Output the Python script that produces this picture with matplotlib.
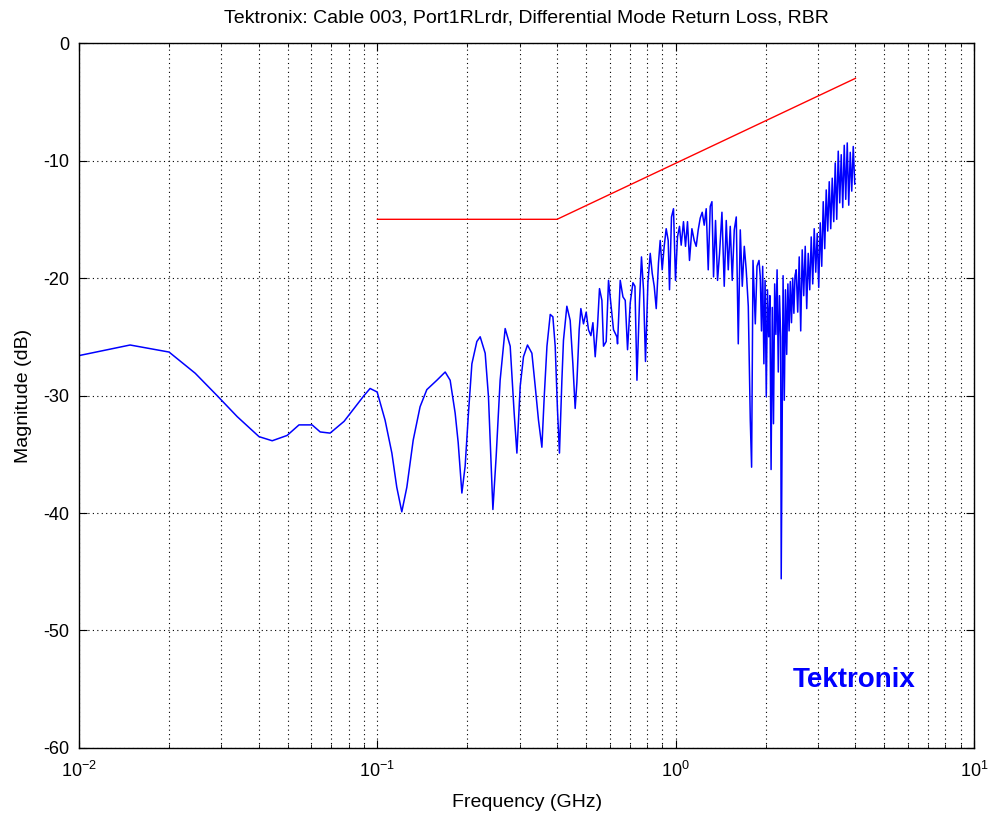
import numpy as np
import matplotlib.pyplot as plt
from matplotlib.ticker import LogLocator

plt.rcParams['font.family'] = ['Liberation Sans', 'DejaVu Sans']
plt.rcParams['axes.unicode_minus'] = False

# limit line (red)
limit_f = [0.1, 0.4, 4.0]
limit_db = [-15, -15, -3]

f_low = [0.01, 0.01483, 0.02003, 0.0245, 0.029, 0.0339, 0.0401, 0.0444, 0.0498,
         0.0546, 0.0604, 0.0643, 0.0694, 0.0773, 0.0835, 0.0902, 0.0945, 0.0998]
db_low = [-26.6, -25.7, -26.3, -28.1, -30.0, -31.8, -33.5, -33.85, -33.4,
          -32.5, -32.5, -33.1, -33.2, -32.2, -31.1, -30.0, -29.4, -29.7]

f_mid = [0.1061, 0.1118, 0.1161, 0.1207, 0.1255, 0.1318, 0.1390, 0.1464, 0.1582,
         0.1687, 0.1753, 0.1822, 0.1865, 0.1919, 0.1968, 0.2019, 0.2073, 0.2154,
         0.2210, 0.2297, 0.2356, 0.2438, 0.2500, 0.2578, 0.2680, 0.2786, 0.2873,
         0.2934, 0.3010, 0.3087, 0.3184, 0.3294, 0.3379, 0.3466, 0.3558, 0.3623,
         0.3700, 0.3795, 0.3873, 0.3943, 0.4013, 0.4075, 0.4152, 0.4203, 0.4314,
         0.4426, 0.4519, 0.4600, 0.4661, 0.4744, 0.4807, 0.4905, 0.5008, 0.5098,
         0.5194, 0.5275, 0.5369, 0.5465, 0.5550, 0.5654, 0.5724, 0.5845, 0.5950,
         0.6183, 0.6347]
db_mid = [-32.1, -34.9, -37.8, -39.9, -37.8, -33.8, -30.95, -29.5, -28.7,
          -28.0, -28.7, -31.5, -34.0, -38.3, -36.0, -31.5, -27.3, -25.4,
          -25.0, -26.4, -30.1, -39.7, -35.2, -28.7, -24.3, -25.8, -31.5,
          -34.9, -29.2, -26.7, -25.7, -26.4, -29.2, -32.1, -34.4, -30.1,
          -25.8, -23.1, -23.3, -25.8, -31.2, -34.9, -28.7, -25.3, -22.4,
          -23.6, -27.3, -31.1, -28.9, -24.4, -22.6, -23.9, -22.9, -24.4,
          -24.9, -23.8, -26.7, -24.1, -20.9, -21.9, -25.8, -25.4, -20.2,
          -24.4, -25.0]

f_high = [0.6379, 0.6513, 0.6651, 0.6770, 0.6891, 0.7037, 0.7184, 0.7296, 0.7410,
          0.7560, 0.7674, 0.7794, 0.7915, 0.8064, 0.8209, 0.8337, 0.8467, 0.8599,
          0.8750, 0.8866, 0.9004, 0.9144, 0.9286, 0.9431, 0.9527, 0.9674, 0.9824,
          0.9977, 1.0132, 1.0290, 1.0426, 1.0612, 1.0778, 1.0946, 1.1116, 1.1324,
          1.1527, 1.1706, 1.1889, 1.2074, 1.2262, 1.2453, 1.2647, 1.2844, 1.3044,
          1.3217, 1.3382, 1.3590, 1.3802, 1.4017, 1.4278, 1.4533, 1.4760, 1.4990,
          1.5224, 1.5461, 1.5702, 1.5947, 1.6195, 1.6448, 1.6704, 1.6964, 1.7219,
          1.7497, 1.7769, 1.7950, 1.8145, 1.8470, 1.8714, 1.9005]
db_high = [-25.6, -20.2, -21.6, -21.9, -26.1, -22.1, -20.4, -20.7, -28.7,
           -21.9, -18.2, -21.0, -27.1, -20.4, -17.9, -19.6, -20.7, -22.6,
           -18.7, -16.8, -19.3, -17.3, -15.8, -16.8, -21.0, -14.8, -14.1,
           -20.2, -16.5, -15.6, -17.2, -15.2, -17.3, -15.2, -18.5, -15.8,
           -16.8, -17.3, -15.9, -14.9, -14.4, -15.5, -14.1, -19.3, -13.9,
           -13.5, -19.9, -15.1, -20.2, -17.9, -14.4, -20.7, -15.1, -19.3,
           -15.6, -20.2, -15.9, -14.8, -25.6, -15.9, -20.7, -17.3, -19.3,
           -22.4, -32.1, -36.1, -18.5, -23.9, -19.0, -18.5]

# the noisy dip around 2 GHz
f_dip = [1.9194, 1.9373, 1.9553, 1.9735, 1.9919, 2.0104, 2.0291, 2.0480, 2.0670,
         2.0863, 2.1057, 2.1253, 2.1450, 2.1650, 2.1851, 2.2055, 2.2260, 2.2467,
         2.2558, 2.2887, 2.3100, 2.3315, 2.3532, 2.3751, 2.3972, 2.4195, 2.4420,
         2.4647, 2.4876, 2.5094]
db_dip = [-19.9, -24.5, -19.0, -27.3, -20.2, -30.1, -21.0, -25.0, -21.5,
          -36.3, -22.5, -32.4, -20.5, -24.8, -19.3, -28.0, -21.5, -25.0,
          -45.6, -19.8, -30.4, -21.0, -26.5, -20.5, -24.5, -20.3, -23.8,
          -20.0, -23.0, -19.8]

# top end: dense band up to 4 GHz
f_top = [2.5328, 2.5623, 2.5921, 2.6223, 2.6529, 2.6838, 2.7151, 2.7467, 2.7787,
         2.8111, 2.8438, 2.8770, 2.9105, 2.9444, 2.9787, 3.0134, 3.0485, 3.0840,
         3.1199, 3.1563, 3.1930, 3.2302, 3.2679, 3.3059, 3.3444, 3.3834, 3.4228,
         3.4627, 3.5030, 3.5438, 3.5851, 3.6269, 3.6691, 3.7119, 3.7551, 3.7989,
         3.8431, 3.8879, 3.9332, 3.9790]
db_top = [-19.3, -22.9, -18.2, -24.5, -17.6, -21.5, -17.3, -22.6, -17.9,
          -21.0, -16.5, -20.5, -15.8, -19.5, -16.2, -20.8, -15.3, -19.0,
          -13.5, -17.5, -12.5, -16.0, -11.8, -15.8, -11.5, -15.2, -10.2,
          -15.0, -9.2, -13.6, -9.5, -14.0, -8.7, -13.3, -8.5, -13.8,
          -9.3, -12.6, -8.8, -12.0]

freq = np.array(f_low + f_mid + f_high + f_dip + f_top)
mag = np.array(db_low + db_mid + db_high + db_dip + db_top)

fig = plt.figure(figsize=(9.88, 8.13), dpi=100)
ax = fig.add_axes([0.080, 0.080, 0.906, 0.867])

ax.semilogx(freq, mag, color='#0000ff', lw=1.1)
ax.semilogx(limit_f, limit_db, color='#ff0000', lw=1.0)

ax.set_xlim(0.01, 10)
ax.set_ylim(-60, 0)
ax.set_yticks(np.arange(-60, 1, 10))
ax.xaxis.set_major_locator(LogLocator(base=10, numticks=10))
ax.xaxis.set_minor_locator(LogLocator(base=10, subs=np.arange(2, 10), numticks=20))

gs = dict(color='black', linestyle=(0, (1, 3)), linewidth=0.8)
ax.grid(True, which='major', axis='both', **gs)
ax.grid(True, which='minor', axis='x', **gs)

ax.tick_params(which='both', direction='in', top=True, right=True, labelsize=13)
ax.tick_params(which='major', length=6)
ax.tick_params(which='minor', length=3)
ax.tick_params(axis='x', which='major', pad=9)
ax.tick_params(axis='y', which='major', pad=7)
for s in ax.spines.values():
    s.set_linewidth(1.0)

ax.set_title('Tektronix: Cable 003, Port1RLrdr, Differential Mode Return Loss, RBR',
             fontsize=14, pad=15)
ax.set_xlabel('Frequency (GHz)', fontsize=14, labelpad=10)
ax.set_ylabel('Magnitude (dB)', fontsize=14, labelpad=8)

ax.text(0.866, 0.097, 'Tektronix', transform=ax.transAxes, ha='center', va='center',
        color='#0000ff', fontsize=20, fontweight='bold')

plt.savefig('out.png', dpi=100)
